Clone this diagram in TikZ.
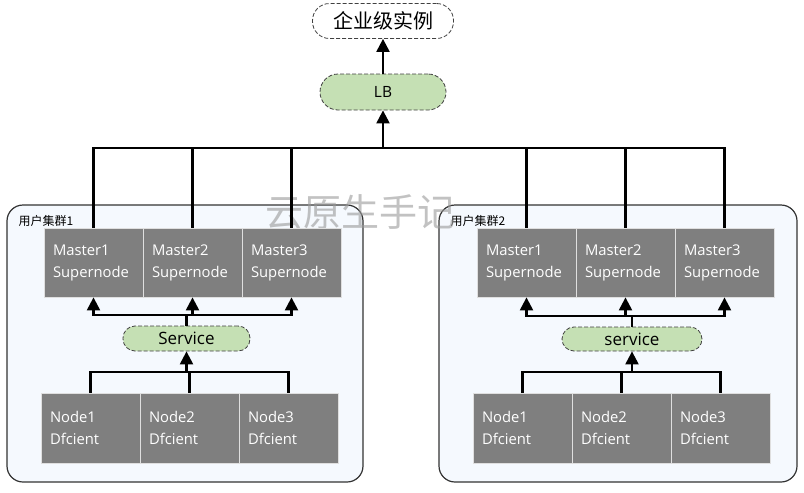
\documentclass[tikz,border=0pt]{standalone}
\usepackage{fontspec}
\setmainfont{Open Sans}
\newfontfamily\cjk{Noto Sans CJK SC}
\usetikzlibrary{arrows.meta}
\definecolor{tagfill}{HTML}{C5E0B4}
\definecolor{areafill}{HTML}{F5F9FE}
\definecolor{boxfill}{HTML}{7F7F7F}
\tikzset{
  box/.style={draw=white!75!gray, line width=0.8, fill=boxfill, text=white,
    text width=81, inner xsep=9, inner ysep=0, minimum height=69,
    align=left, font=\fontsize{14.8}{22}\selectfont},
  tag/.style={draw=black!75, dashed, dash pattern=on 4 off 2, line width=0.8,
    fill=tagfill, inner sep=0},
  area/.style={draw=black!80, line width=1.2, fill=areafill, rounded corners=16},
  link/.style={line width=2.2},
  arr/.style={link, -{Triangle[width=13pt,length=13pt]}}
}
\begin{document}
\begin{tikzpicture}[x=1pt,y=-1pt]
\useasboundingbox (0,0) rectangle (804,493);

% clusters
\draw[area] (7,205) rectangle (363,482);
\draw[area] (439,205) rectangle (797,482);
\node[anchor=west, font=\cjk\fontsize{12}{12}\selectfont] (lab1) at (15,221) {用户集群1};
\node[anchor=west, font=\cjk\fontsize{12}{12}\selectfont] (lab2) at (447,221) {用户集群2};

% watermark
\node[text=black!40, opacity=0.6, font=\cjk\fontsize{38}{38}\selectfont] (wm) at (360,212) {云原生手记};

% top
\node[tag, fill=white, minimum width=141, minimum height=35, rounded corners=17,
  font=\cjk\fontsize{20}{20}\selectfont] (inst) at (383,21) {企业级实例};
\node[tag, minimum width=126, minimum height=36, rounded corners=18,
  font=\fontsize{15.5}{15.5}\selectfont] (lb) at (383,92) {LB};
\draw[arr] (lb) -- (inst);
\coordinate (bus) at (383,148);
\draw[arr] (bus) -- (lb);

% masters and nodes
\foreach \c/\x/\n in {1/44/41,2/477/473}{
  \foreach \i in {1,2,3}{
    \node[box] (m\c\i) at ({\x+49.5+99*(\i-1)},262.5) {Master\i\\Supernode};
    \node[box, minimum height=70] (n\c\i) at ({\n+49.5+99*(\i-1)},428) {Node\i\\Dfcient};
  }
}

% services
\node[tag, minimum width=127, minimum height=25, rounded corners=12,
  font=\fontsize{17}{17}\selectfont] (svc1) at (186.5,338.5) {Service};
\node[tag, minimum width=140, minimum height=24, rounded corners=12,
  font=\fontsize{17}{17}\selectfont] (svc2) at (632,339) {service};

\coordinate (up1) at (186.5,315);
\coordinate (up2) at (632,316);
\coordinate (lo1) at (186.5,372);
\coordinate (lo2) at (632,372);

\foreach \c in {1,2}{
  \foreach \i in {1,2,3}{
    \draw[link] (m\c\i.north) |- (bus);
    \draw[arr] (up\c) -| (m\c\i.south);
    \draw[link] (n\c\i.north) |- (lo\c);
  }
  \draw[link] (svc\c.north) -- (up\c);
  \draw[arr] (lo\c) -- (svc\c.south);
}
\end{tikzpicture}
\end{document}
